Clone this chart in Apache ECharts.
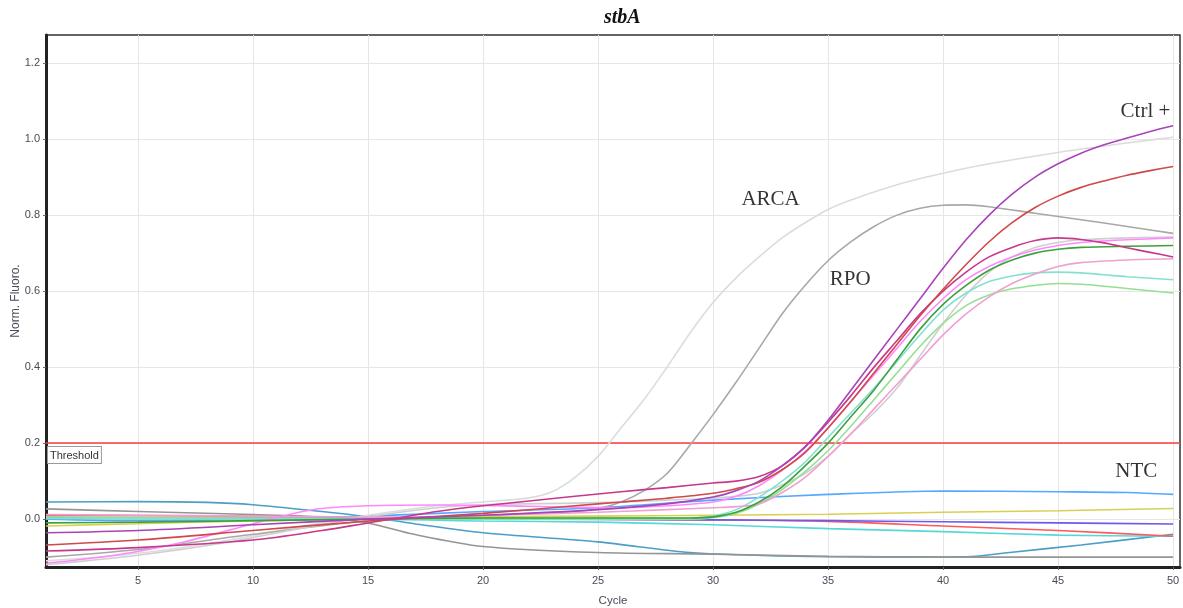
<!DOCTYPE html>
<html>
<head>
<meta charset="utf-8">
<script src="https://cdn.jsdelivr.net/npm/echarts@6/dist/echarts.min.js"></script>
<style>html,body{margin:0;padding:0;background:#fff}#c{width:1183px;height:608px}</style>
</head>
<body>
<div id="c"></div>
<script>
// ---- data (cycle, normalised fluorescence) ----
const xTicks = [5,10,15,20,25,30,35,40,45,50];
const yTicks = [0,0.2,0.4,0.6,0.8,1.0,1.2];
const threshold = 0.197;

const arca = [[1,-0.11],[5,-0.09],[9,-0.055],[12,-0.02],[15,0.01],[18,0.035],[20,0.045],[22,0.056],[23,0.072],[24,0.11],[25,0.165],[26,0.24],[27,0.315],[28,0.4],[29,0.49],[30,0.57],[31,0.635],[32,0.69],[33,0.74],[34,0.78],[35,0.815],[36,0.84],[38,0.88],[40,0.91],[42,0.935],[45,0.965],[48,0.99],[50,1.005]];
const rpo = [[1,-0.1],[5,-0.08],[10,-0.04],[15,-0.005],[20,0.01],[24,0.02],[25,0.028],[26,0.045],[27,0.075],[28,0.12],[29,0.195],[30,0.275],[31,0.36],[32,0.45],[33,0.54],[34,0.615],[35,0.68],[36,0.73],[37,0.77],[38,0.8],[39,0.818],[40,0.826],[41,0.827],[42,0.822],[44,0.805],[46,0.788],[48,0.77],[50,0.752]];
const ctrlPos = [[1,-0.036],[5,-0.03],[10,-0.015],[15,0.0],[20,0.01],[25,0.025],[28,0.04],[30,0.058],[31,0.075],[32,0.1],[33,0.14],[34,0.19],[35,0.26],[36,0.34],[37,0.42],[38,0.5],[39,0.58],[40,0.66],[41,0.735],[42,0.8],[43,0.855],[44,0.9],[45,0.935],[46,0.963],[47,0.985],[48,1.003],[49,1.02],[50,1.035]];
const redAmp = [[1,-0.068],[5,-0.055],[10,-0.03],[15,-0.005],[20,0.015],[24,0.035],[26,0.045],[28,0.055],[30,0.068],[31,0.08],[32,0.097],[33,0.13],[34,0.175],[35,0.24],[36,0.31],[37,0.385],[38,0.46],[39,0.535],[40,0.605],[41,0.67],[42,0.73],[43,0.78],[44,0.82],[45,0.85],[46,0.873],[47,0.89],[48,0.905],[49,0.917],[50,0.928]];
const magentaAmp = [[1,-0.084],[5,-0.075],[10,-0.055],[13,-0.03],[15,-0.01],[18,0.02],[20,0.035],[24,0.06],[26,0.072],[28,0.083],[30,0.095],[31,0.1],[32,0.112],[33,0.14],[34,0.19],[35,0.255],[36,0.325],[37,0.4],[38,0.47],[39,0.54],[40,0.6],[41,0.65],[42,0.69],[43,0.715],[44,0.733],[45,0.74],[46,0.736],[47,0.727],[48,0.714],[49,0.702],[50,0.69]];
const greenAmp = [[1,-0.01],[5,-0.008],[10,-0.004],[15,0.0],[20,0.003],[25,0.003],[29,0.003],[30,0.006],[31,0.018],[32,0.045],[33,0.085],[34,0.14],[35,0.2],[36,0.27],[37,0.34],[38,0.42],[39,0.5],[40,0.565],[41,0.615],[42,0.655],[43,0.682],[44,0.7],[45,0.71],[46,0.715],[48,0.718],[50,0.72]];
const cyanAmp = [[1,0.002],[10,0.0],[15,0.0],[20,0.002],[25,0.002],[29,0.003],[30,0.008],[31,0.025],[32,0.058],[33,0.1],[34,0.15],[35,0.215],[36,0.28],[37,0.345],[38,0.415],[39,0.485],[40,0.55],[41,0.595],[42,0.625],[43,0.64],[44,0.648],[45,0.65],[46,0.648],[47,0.643],[48,0.638],[50,0.63]];
const lightGreenAmp = [[1,0.006],[10,0.003],[15,0.0],[20,0.0],[25,0.0],[29,0.0],[30,0.004],[31,0.015],[32,0.04],[33,0.078],[34,0.125],[35,0.18],[36,0.245],[37,0.315],[38,0.385],[39,0.455],[40,0.515],[41,0.562],[42,0.59],[43,0.606],[44,0.615],[45,0.62],[46,0.618],[47,0.613],[48,0.607],[50,0.595]];
const palePinkAmp = [[1,0.012],[10,0.008],[15,0.005],[20,0.01],[25,0.018],[28,0.025],[30,0.03],[31,0.033],[32,0.04],[33,0.07],[34,0.11],[35,0.165],[36,0.225],[37,0.29],[38,0.355],[39,0.42],[40,0.485],[41,0.54],[42,0.585],[43,0.62],[44,0.645],[45,0.665],[46,0.675],[48,0.682],[50,0.685]];
const lightGrayAmp = [[1,-0.12],[5,-0.095],[9,-0.06],[12,-0.025],[15,0.006],[18,0.03],[20,0.038],[24,0.042],[26,0.045],[28,0.05],[30,0.055],[31,0.06],[32,0.068],[33,0.09],[34,0.12],[35,0.165],[36,0.225],[37,0.28],[38,0.345],[39,0.43],[40,0.515],[41,0.59],[42,0.65],[43,0.69],[44,0.715],[45,0.728],[46,0.735],[48,0.74],[50,0.742]];
const brightPinkAmp = [[1,-0.116],[4,-0.095],[7,-0.06],[10,-0.012],[12,0.018],[13,0.028],[15,0.035],[18,0.037],[22,0.034],[26,0.03],[28,0.035],[30,0.045],[31,0.06],[32,0.088],[33,0.128],[34,0.178],[35,0.24],[36,0.31],[37,0.38],[38,0.45],[39,0.52],[40,0.58],[41,0.63],[42,0.665],[43,0.69],[44,0.708],[45,0.72],[46,0.728],[48,0.735],[50,0.74]];

const lightBlueNtc = [[1,0.0],[5,-0.004],[10,0.0],[15,0.008],[20,0.02],[25,0.03],[30,0.05],[35,0.065],[40,0.074],[45,0.072],[48,0.07],[50,0.065]];
const yellowNtc = [[1,-0.018],[5,-0.012],[10,-0.005],[15,0.0],[20,0.006],[25,0.008],[30,0.01],[35,0.013],[40,0.018],[45,0.022],[50,0.028]];
const bluePurpleNtc = [[1,0.004],[10,0.003],[15,0.0],[20,0.0],[25,-0.001],[30,-0.002],[35,-0.004],[40,-0.007],[45,-0.01],[50,-0.013]];
const redNtc = [[1,0.01],[10,0.008],[15,0.005],[20,0.002],[25,0.0],[30,-0.002],[35,-0.006],[40,-0.018],[45,-0.03],[50,-0.045]];
const cyanNtc = [[1,0.003],[10,0.0],[15,0.0],[20,-0.005],[25,-0.008],[30,-0.015],[35,-0.025],[40,-0.033],[45,-0.042],[50,-0.045]];
const steelBlueNtc = [[1,0.045],[5,0.046],[8,0.044],[10,0.038],[13,0.02],[15,0.006],[17,-0.012],[20,-0.036],[25,-0.06],[29,-0.088],[33,-0.097],[38,-0.1],[41,-0.099],[43,-0.087],[46,-0.068],[50,-0.04]];
const grayNtc = [[1,0.027],[5,0.02],[10,0.012],[13,0.005],[15,-0.01],[17,-0.04],[20,-0.072],[25,-0.088],[30,-0.092],[35,-0.098],[40,-0.1],[50,-0.1]];

const annotations = [[32.5,0.84,'ARCA'],[35.96,0.63,'RPO'],[48.8,1.074,'Ctrl +'],[48.4,0.126,'NTC']];

// ---- chart ----
const curves = [
  [steelBlueNtc,'#4a9ec8'],[grayNtc,'#959595'],[cyanNtc,'#55d8d8'],[redNtc,'#ff5a5a'],
  [bluePurpleNtc,'#6a5af0'],[yellowNtc,'#d8d050'],[lightBlueNtc,'#55a8ff'],
  [arca,'#dcdcdc'],[rpo,'#a8a8a8'],[lightGrayAmp,'#cfcfcf'],[lightGreenAmp,'#95df95'],
  [cyanAmp,'#85e0d2'],[palePinkAmp,'#f0a0d0'],[brightPinkAmp,'#ff88ff'],[greenAmp,'#3ca03c'],
  [magentaAmp,'#c8388a'],[redAmp,'#d04848'],[ctrlPos,'#a844b8']
];

const series = curves.map((c,i)=>({
  type:'line', data:c[0], smooth:0.3, symbol:'none',
  lineStyle:{color:c[1], width:1.6}, z:2+i, silent:true
}));
series[0].markLine = {
  silent:true, symbol:'none',
  lineStyle:{color:'#ff3a3a', width:1.6, type:'solid'},
  label:{formatter:'Threshold', position:'insideStartBottom', distance:[2,4],
    color:'#333', fontSize:11, fontFamily:'Liberation Sans, Arial, sans-serif',
    backgroundColor:'#fff', borderColor:'#999', borderWidth:1, padding:[3,2,2,2]},
  data:[{yAxis:threshold}]
};
series.push({
  type:'scatter', symbolSize:0, z:30, silent:true,
  data:annotations.map(a=>({value:[a[0],a[1]], name:a[2]})),
  label:{show:true, position:'inside', formatter:p=>p.name, color:'#000',
    fontSize:21, fontFamily:'Liberation Serif, Times New Roman, serif'}
});

const axisFont = {color:'#4a4a58', fontSize:11, fontFamily:'Liberation Sans, Arial, sans-serif'};
const chart = echarts.init(document.getElementById('c'), null, {renderer:'canvas'});
chart.setOption({
  animation:false,
  backgroundColor:'#fff',
  title:{text:'stbA', left:599, top:3,
    textStyle:{fontSize:20, fontStyle:'italic', fontWeight:'bold', color:'#111',
      fontFamily:'Liberation Serif, Times New Roman, serif'}},
  grid:{left:46, right:3, top:35, bottom:41, outerBoundsMode:'none', containLabel:false,
    show:true, borderColor:'#333', borderWidth:1.5, backgroundColor:'#fff'},
  xAxis:{type:'value', min:1, max:50.3,
    name:'Cycle', nameLocation:'middle', nameGap:28, nameMoveOverlap:false,
    nameTextStyle:{color:'#4a4a58', fontSize:11.5, fontFamily:'Liberation Sans, Arial, sans-serif'},
    axisLine:{show:true, onZero:false, lineStyle:{color:'#222', width:3}},
    axisTick:{show:true, customValues:xTicks, length:3, lineStyle:{color:'#666'}},
    axisLabel:Object.assign({customValues:xTicks, margin:8, formatter:v=>String(v)}, axisFont),
    splitLine:{show:true, lineStyle:{color:'#e6e6e6', width:1}}
  },
  yAxis:{type:'value', min:-0.126, max:1.274,
    name:'Norm. Fluoro.', nameLocation:'middle', nameGap:24, nameMoveOverlap:false,
    nameTextStyle:{color:'#4a4a58', fontSize:12, fontFamily:'Liberation Sans, Arial, sans-serif'},
    axisLine:{show:true, onZero:false, lineStyle:{color:'#222', width:3}},
    axisTick:{show:true, customValues:yTicks, length:3, lineStyle:{color:'#666'}},
    axisLabel:Object.assign({customValues:yTicks, margin:6, formatter:v=>v.toFixed(1)}, axisFont),
    splitLine:{show:true, lineStyle:{color:'#e6e6e6', width:1}}
  },
  series:series
});
</script>
</body>
</html>
